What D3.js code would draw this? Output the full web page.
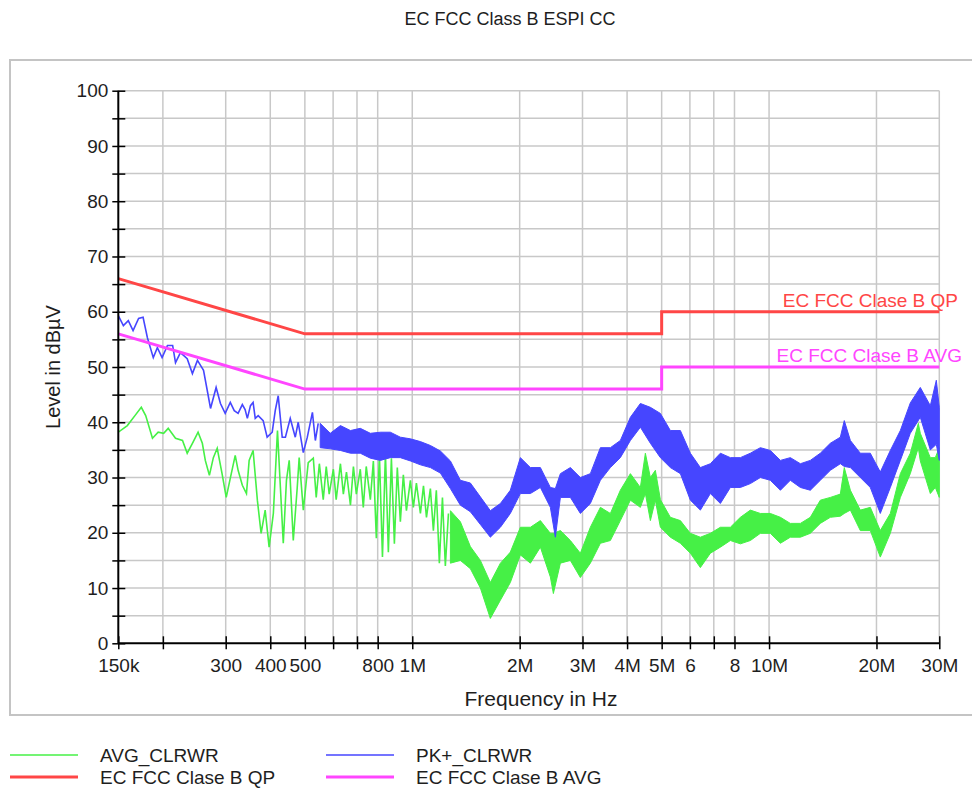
<!DOCTYPE html>
<html>
<head>
<meta charset="utf-8">
<script src="https://cdn.jsdelivr.net/npm/d3@7"></script>
<style>
  body { margin: 0; background: #fff; }
  text { font-family: "Liberation Sans", Arial, sans-serif; fill: #1e1e1e; }
</style>
</head>
<body>
<div id="container"></div>
<script>
// frequencies in MHz, levels in dBuV

// x axis ticks / labels
var xTicks  = [0.15, 0.2, 0.3, 0.4, 0.5, 0.6, 0.7, 0.8, 1, 2, 3, 4, 5, 6, 7, 8, 10, 20, 30];
var xLabels = ["150k", "", "300", "400", "500", "", "", "800", "1M", "2M", "3M", "4M", "5M", "6", "", "8", "10M", "20M", "30M"];
var yTicks  = [0, 10, 20, 30, 40, 50, 60, 70, 80, 90, 100];

// limit lines
var qpLimit  = [[0.15, 66], [0.5, 56], [5, 56], [5, 60], [30, 60]];
var avgLimit = [[0.15, 56], [0.5, 46], [5, 46], [5, 50], [30, 50]];

// PK+ trace, single line part (150k - 550k)
var pkLine = [[0.150,59.3],[0.155,57.5],[0.160,58.4],[0.165,56.6],[0.171,58.8],[0.176,59.0],[0.181,55.3],
  [0.188,51.7],[0.193,53.5],[0.199,51.7],[0.206,53.9],[0.213,53.9],[0.217,50.8],[0.224,52.6],[0.234,51.5],
  [0.242,48.8],[0.250,51.2],[0.255,50.3],[0.260,49.4],[0.268,44.8],[0.272,42.5],[0.282,46.3],[0.290,43.4],
  [0.299,41.6],[0.309,43.6],[0.317,42.1],[0.325,41.6],[0.334,43.2],[0.340,42.3],[0.345,40.7],[0.352,43.0],
  [0.358,43.6],[0.363,40.7],[0.370,41.2],[0.382,40.3],[0.392,37.3],[0.405,38.2],[0.413,42.1],[0.421,44.8],
  [0.432,37.3],[0.441,37.3],[0.455,40.7],[0.470,37.3],[0.479,40.0],[0.495,34.5],[0.508,37.3],[0.525,41.8],
  [0.535,36.7],[0.545,39.8]];

// PK+ trace, dense part: [freq, max, min]
var pkBand = [[0.552,39.8,35.4],[0.589,38.0,35.2],[0.629,39.4,34.9],[0.671,38.5,34.4],[0.715,38.9,34.4],
  [0.763,38.0,33.5],[0.814,38.2,33.1],[0.868,38.2,33.6],[0.926,37.3,33.6],[0.988,37.0,33.0],[1.054,36.5,32.3],
  [1.124,35.8,31.8],[1.199,34.8,30.8],[1.279,33.0,28.0],[1.364,29.5,25.0],[1.455,29.0,23.8],[1.552,26.5,21.5],
  [1.655,24.0,19.2],[1.766,25.3,21.0],[1.883,27.7,23.5],[2.009,33.6,27.1],[2.143,31.8,27.1],[2.286,31.8,28.2],
  [2.438,28.2,24.6],[2.518,28.0,19.2],[2.601,30.7,26.4],[2.774,31.8,26.4],[2.959,30.0,23.5],[3.156,30.7,25.3],
  [3.367,35.4,29.5],[3.591,35.4,31.8],[3.830,36.7,33.6],[4.086,40.9,36.7],[4.358,43.4,39.1],[4.649,42.7,36.2],
  [4.959,41.6,33.6],[5.289,38.5,31.8],[5.642,38.5,30.7],[6.018,34.4,25.9],[6.419,31.8,24.1],[6.847,32.5,27.1],
  [7.304,34.4,25.3],[7.790,33.6,28.2],[8.310,33.6,28.2],[8.863,34.4,28.9],[9.454,35.4,30.0],[10.08,34.9,29.5],
  [10.76,33.1,27.7],[11.47,33.6,29.5],[12.24,32.5,28.2],[13.05,33.1,27.7],[13.92,34.4,29.5],[14.85,36.2,31.3],
  [15.84,37.3,32.5],[16.25,40.3,32.0],[16.90,36.7,31.8],[18.02,34.4,30.0],[19.22,34.4,28.2],[20.50,31.0,23.5],
  [21.87,34.9,28.2],[23.33,38.5,33.1],[24.88,43.5,38.0],[26.54,46.3,40.9],[28.31,43.0,35.0],[29.43,47.6,36.0],
  [30.0,42.7,33.1]];

// AVG trace, single line part (150k - 1.26M)
var avgLine = [[0.150,38.2],[0.159,39.4],[0.167,41.2],[0.174,42.7],[0.179,41.2],[0.187,37.1],[0.194,38.2],
  [0.201,38.0],[0.207,38.9],[0.217,37.1],[0.227,36.7],[0.234,34.4],[0.242,36.2],[0.247,37.3],[0.251,38.2],
  [0.258,36.2],[0.263,33.1],[0.270,30.4],[0.277,33.6],[0.284,35.3],[0.293,30.7],[0.301,26.4],[0.311,30.7],
  [0.319,34.0],[0.325,31.3],[0.334,28.6],[0.343,27.1],[0.349,33.1],[0.358,34.9],[0.368,25.9],[0.377,19.9],
  [0.387,24.1],[0.397,17.4],[0.408,23.5],[0.419,38.5],[0.427,28.2],[0.435,18.1],[0.444,29.5],[0.452,33.1],
  [0.464,18.6],[0.476,28.2],[0.482,33.6],[0.495,24.1],[0.511,32.7],[0.528,33.5],[0.538,26.4],[0.549,32.5],
  [0.563,26.0],[0.574,32.0],[0.585,27.0],[0.601,31.5],[0.612,26.0],[0.629,32.5],[0.641,27.0],[0.654,31.0],
  [0.671,25.0],[0.684,32.0],[0.697,27.0],[0.715,31.5],[0.729,24.6],[0.743,32.0],[0.763,26.0],[0.778,33.0],
  [0.793,19.0],[0.809,34.0],[0.825,15.6],[0.841,34.4],[0.857,16.5],[0.874,33.5],[0.891,18.0],[0.908,31.8],
  [0.926,22.0],[0.944,30.5],[0.963,24.0],[0.988,29.5],[1.007,24.6],[1.027,29.0],[1.054,23.5],[1.075,28.5],
  [1.096,22.8],[1.124,28.0],[1.146,20.4],[1.168,27.7],[1.191,14.5],[1.215,26.4],[1.238,14.0],[1.263,23.5]];

// AVG trace, dense part: [freq, max, min]
var avgBand = [[1.279,24.0,14.5],[1.364,22.0,15.0],[1.455,17.5,13.5],[1.552,15.0,10.0],[1.655,11.0,4.5],
  [1.766,14.5,7.8],[1.883,16.5,11.0],[2.009,21.0,16.0],[2.143,21.0,14.5],[2.286,22.2,17.4],[2.438,19.9,12.0],
  [2.486,19.9,9.0],[2.601,20.4,14.5],[2.774,18.6,15.0],[2.959,16.3,11.9],[3.156,21.0,14.5],[3.367,24.6,18.1],
  [3.591,23.5,18.6],[3.830,27.7,22.2],[4.086,30.7,25.9],[4.358,28.2,24.6],[4.501,34.4,27.1],[4.649,30.0,22.2],
  [4.801,31.3,25.9],[4.959,26.0,21.0],[5.289,22.8,19.2],[5.642,22.2,18.1],[6.018,19.9,16.3],[6.419,19.2,13.7],
  [6.847,19.9,16.3],[7.304,21.0,17.4],[7.790,21.0,18.6],[8.310,22.8,18.0],[8.863,24.1,18.6],[9.454,23.5,19.9],
  [10.08,23.5,19.9],[10.76,22.8,18.1],[11.47,21.7,19.2],[12.24,21.7,19.2],[13.05,22.8,19.9],[13.92,25.9,21.7],
  [14.85,26.4,22.8],[15.84,27.0,23.0],[16.25,31.8,23.5],[16.90,27.7,24.1],[18.02,24.1,20.4],[19.22,24.6,20.4],
  [20.50,20.4,15.6],[21.87,23.5,19.9],[23.33,30.7,26.4],[24.88,34.4,30.7],[26.20,39.8,35.4],[26.54,38.0,33.0],
  [28.31,33.6,27.1],[29.24,33.6,28.2],[30.0,35.4,26.4]];

// legend
var legendNames  = ["AVG_CLRWR", "PK+_CLRWR", "EC FCC Clase B QP", "EC FCC Clase B AVG"];
var legendColors = ["#46f046", "#4646ff", "#ff4646", "#ff46ff"];
var legendWidths = [1.5, 1.5, 3, 3];

var green = legendColors[0], blue = legendColors[1], red = legendColors[2], pink = legendColors[3];

var svg = d3.select("#container")
  .append("svg")
  .attr("width", 972)
  .attr("height", 791);

var x = d3.scaleLog().domain([0.15, 30]).range([118.3, 939.3]);
var y = d3.scaleLinear().domain([0, 100]).range([643.3, 90.7]);

// title
svg.append("text")
  .attr("x", 510).attr("y", 25)
  .attr("text-anchor", "middle")
  .style("font-size", "18px")
  .text("EC FCC Class B ESPI CC");

// panel frame
svg.append("rect")
  .attr("x", 10).attr("y", 60)
  .attr("width", 980).attr("height", 655)
  .attr("fill", "none")
  .attr("stroke", "#c4c4c4")
  .attr("stroke-width", 2);

//////////// grid ////////////
var grid = svg.append("g").attr("class", "grid");
grid.selectAll("line.v")
  .data(xTicks.slice(1))
  .enter().append("line")
  .attr("x1", d => x(d)).attr("x2", d => x(d))
  .attr("y1", y(100)).attr("y2", y(0))
  .attr("stroke", "#c8c8c8").attr("stroke-width", 1.5);
grid.selectAll("line.h")
  .data(y.ticks(20).slice(1))
  .enter().append("line")
  .attr("x1", x(0.15)).attr("x2", x(30))
  .attr("y1", d => y(d)).attr("y2", d => y(d))
  .attr("stroke", "#c8c8c8").attr("stroke-width", 1.5);

//////////// traces ////////////
svg.append("clipPath").attr("id", "plotclip")
  .append("rect")
  .attr("x", x(0.15)).attr("y", y(100))
  .attr("width", x(30) - x(0.15) + 1).attr("height", y(0) - y(100));

var plot = svg.append("g").attr("clip-path", "url(#plotclip)");

var line = d3.line().x(d => x(d[0])).y(d => y(d[1]));
var band = d3.area().x(d => x(d[0])).y0(d => y(d[2])).y1(d => y(d[1]));

function drawTrace(lineData, bandData, col) {
  plot.append("path")
    .datum(bandData)
    .attr("d", band)
    .attr("fill", col)
    .attr("stroke", col)
    .attr("stroke-width", 1)
    .attr("stroke-linejoin", "bevel");
  plot.append("path")
    .datum(lineData)
    .attr("d", line)
    .attr("fill", "none")
    .attr("stroke", col)
    .attr("stroke-width", 1.6);
}

drawTrace(avgLine, avgBand, green);
drawTrace(pkLine, pkBand, blue);

plot.append("path").datum(qpLimit).attr("d", line)
  .attr("fill", "none").attr("stroke", red).attr("stroke-width", 3);
plot.append("path").datum(avgLimit).attr("d", line)
  .attr("fill", "none").attr("stroke", pink).attr("stroke-width", 3);

// limit labels
svg.append("text")
  .attr("x", 958).attr("y", y(60) - 5)
  .attr("text-anchor", "end")
  .style("font-size", "19px").style("fill", red)
  .text("EC FCC Clase B QP");
svg.append("text")
  .attr("x", 962).attr("y", y(50) - 5)
  .attr("text-anchor", "end")
  .style("font-size", "19px").style("fill", pink)
  .text("EC FCC Clase B AVG");

//////////// axes ////////////
var yAxis = svg.append("g")
  .attr("transform", "translate(" + x(0.15) + ",0)")
  .call(d3.axisLeft(y).tickValues(y.ticks(20)).tickSize(6).tickPadding(4)
    .tickFormat(d => (yTicks.indexOf(d) >= 0 ? d : "")));
yAxis.selectAll(".tick line").attr("x2", -6).attr("x1", 7).attr("stroke", "#000").attr("stroke-width", 1.5);
yAxis.select(".domain").attr("stroke", "#000").attr("stroke-width", 2).attr("d", "M0," + y(100) + "V" + y(0));
yAxis.selectAll("text").style("font-size", "19px").attr("fill", "#1e1e1e").style("font-family", "Liberation Sans, Arial, sans-serif");

var xAxis = svg.append("g")
  .attr("transform", "translate(0," + y(0) + ")")
  .call(d3.axisBottom(x).tickValues(xTicks).tickSize(6).tickPadding(9)
    .tickFormat((d, i) => xLabels[i]));
xAxis.selectAll(".tick line").attr("y1", -7).attr("y2", 6).attr("stroke", "#000").attr("stroke-width", 1.5);
xAxis.select(".domain").attr("stroke", "#000").attr("stroke-width", 2).attr("d", "M" + x(0.15) + ",0H" + x(30));
xAxis.selectAll("text").style("font-size", "19px").attr("fill", "#1e1e1e").style("font-family", "Liberation Sans, Arial, sans-serif");

svg.append("text")
  .attr("x", 541).attr("y", 706)
  .attr("text-anchor", "middle")
  .style("font-size", "21px")
  .text("Frequency in Hz");

svg.append("text")
  .attr("transform", "translate(60," + ((y(0) + y(100)) / 2) + ") rotate(-90)")
  .attr("text-anchor", "middle")
  .style("font-size", "20px")
  .text("Level in dB\u00b5V");

//////////// legend ////////////
var legPos = [[10, 755], [326, 755], [10, 777], [326, 777]];
var leg = svg.append("g").selectAll("g")
  .data(legendNames)
  .enter().append("g")
  .attr("transform", (d, i) => "translate(" + legPos[i][0] + "," + legPos[i][1] + ")");
leg.append("line")
  .attr("x1", 0).attr("x2", 68)
  .attr("stroke", (d, i) => legendColors[i])
  .attr("stroke-width", (d, i) => legendWidths[i]);
leg.append("text")
  .attr("x", 90).attr("y", 7)
  .style("font-size", "19px")
  .text(d => d);
</script>
</body>
</html>
